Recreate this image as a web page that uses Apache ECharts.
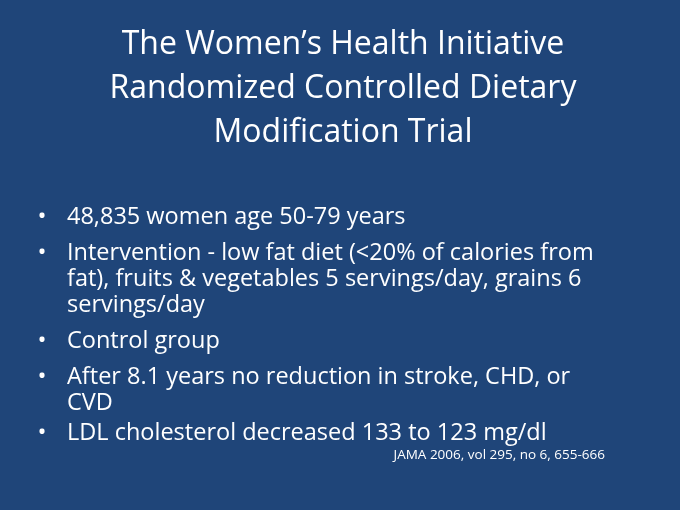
<!DOCTYPE html><html><head><meta charset="utf-8">
<script src="https://cdn.jsdelivr.net/npm/echarts@6/dist/echarts.min.js"></script>
<style>html,body{margin:0;padding:0;background:#1F4579}#c{width:680px;height:510px}</style></head>
<body><div id="c"></div><script>
const titleLines = ["The Women\u2019s Health Initiative", "Randomized Controlled Dietary", "Modification Trial"];
const bullets = [
  ["48,835 women age 50-79 years"],
  ["Intervention - low fat diet (<20% of calories from", "fat), fruits & vegetables 5 servings/day, grains 6", "servings/day"],
  ["Control group"],
  ["After 8.1 years no reduction in stroke, CHD, or", "CVD"],
  ["LDL cholesterol decreased 133 to 123 mg/dl"]
];
const citation = "JAMA 2006, vol 295, no 6, 655-666";
const FONT = "'Open Sans', sans-serif";
const chart = echarts.init(document.getElementById('c'));
const els = [];
titleLines.forEach((t, i) => els.push({type:'text', x:343, y:45 + i*44, style:{text:t, fill:'#fff', font:'32px ' + FONT, textAlign:'center', textVerticalAlign:'middle'}}));
const starts = [217, 253, 341, 377, 433];
bullets.forEach((b, i) => {
  els.push({type:'text', x:42, y:starts[i], style:{text:'\u2022', fill:'#fff', font:'24px ' + FONT, textAlign:'center', textVerticalAlign:'middle'}});
  b.forEach((ln, j) => els.push({type:'text', x:67, y:starts[i] + j*26, style:{text:ln, fill:'#fff', font:'23.5px ' + FONT, textVerticalAlign:'middle'}}));
});
els.push({type:'text', x:605, y:455, style:{text:citation, fill:'#fff', font:'13.5px ' + FONT, textAlign:'right', textVerticalAlign:'middle'}});
chart.setOption({backgroundColor:'#1F4579', graphic:{elements:els}});
</script></body></html>
